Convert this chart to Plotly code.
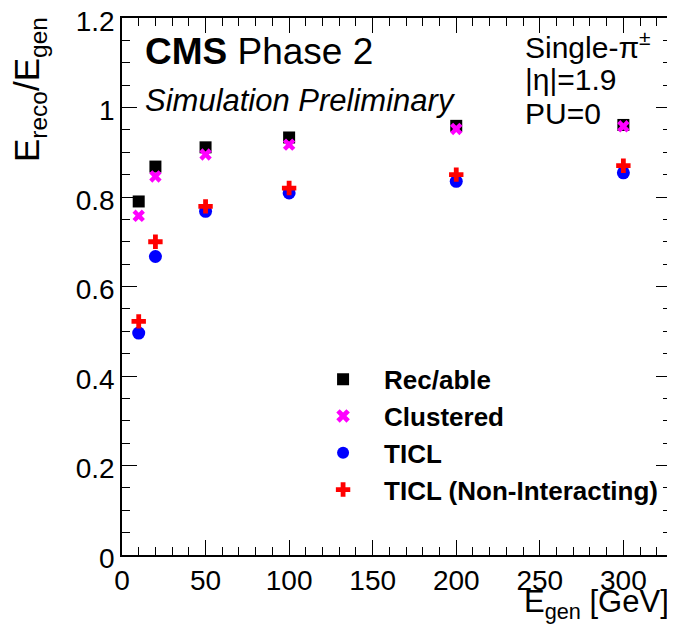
import plotly.graph_objects as go

energies = [10, 20, 50, 100, 200, 300]
recable = [0.790, 0.868, 0.911, 0.933, 0.959, 0.961]
clustered = [0.758, 0.846, 0.895, 0.917, 0.952, 0.958]
ticl = [0.496, 0.667, 0.768, 0.809, 0.835, 0.854]
ticl_nonint = [0.522, 0.700, 0.779, 0.820, 0.850, 0.870]

series_names = ["Rec/able", "Clustered", "TICL", "TICL (Non-Interacting)"]
series_values = [recable, clustered, ticl, ticl_nonint]
series_colors = ["#000000", "#ff00ff", "#0000ff", "#ff0000"]
series_symbols = ["square", "x", "circle", "cross"]
series_sizes = [12, 11, 13, 12]

x_ticks = [0, 50, 100, 150, 200, 250, 300]
y_ticks = [0, 0.2, 0.4, 0.6, 0.8, 1.0, 1.2]

FONT = "Liberation Sans, Arial, Helvetica, sans-serif"

fig = go.Figure()
for i, (name, vals, col, sym, sz) in enumerate(
        zip(series_names, series_values, series_colors, series_symbols, series_sizes)):
    fig.add_trace(go.Scatter(
        x=energies, y=vals, mode="markers", name=name,
        legendgroup=f"g{i}",
        marker=dict(symbol=sym, color=col, size=sz, line=dict(width=0)),
    ))

axis_common = dict(
    showgrid=False, zeroline=False, showline=True, linecolor="black", linewidth=1.5,
    mirror="ticks", ticks="inside", ticklen=15, tickwidth=1, tickcolor="black",
    tickfont=dict(family=FONT, size=28, color="black"),
    ticklabeloverflow="allow", automargin=False,
)

fig.update_xaxes(range=[0, 328.5], tickvals=x_ticks,
                 minor=dict(ticks="inside", ticklen=8, dtick=10, tick0=0, tickcolor="black"),
                 **axis_common)
fig.update_yaxes(range=[0, 1.2], tickvals=y_ticks, ticklabelshift=3,
                 minor=dict(ticks="inside", ticklen=8, dtick=0.05, tick0=0, tickcolor="black"),
                 **axis_common)

fig.update_layout(
    width=667, height=624,
    margin=dict(l=114, r=4, t=10, b=77, autoexpand=False),
    plot_bgcolor="white", paper_bgcolor="white",
    font=dict(family=FONT, color="black"),
    showlegend=True,
    legend=dict(x=0.328, y=0.371, xanchor="left", yanchor="top",
                bgcolor="rgba(0,0,0,0)", borderwidth=0,
                font=dict(family=FONT, size=26, color="black", weight="bold"),
                tracegroupgap=0, itemsizing="constant", itemwidth=72),
    annotations=[
        dict(text="<b>CMS</b> Phase 2", xref="paper", yref="paper", x=0.038, y=0.937,
             xanchor="left", yanchor="middle", showarrow=False,
             font=dict(family=FONT, size=37)),
        dict(text="<i>Simulation Preliminary</i>", xref="paper", yref="paper", x=0.038, y=0.847,
             xanchor="left", yanchor="middle", showarrow=False,
             font=dict(family=FONT, size=31)),
        dict(text="Single-π<sup>±</sup>", xref="paper", yref="paper", x=0.730, y=0.950,
             xanchor="left", yanchor="middle", showarrow=False,
             font=dict(family=FONT, size=30)),
        dict(text="|η|=1.9", xref="paper", yref="paper", x=0.730, y=0.886,
             xanchor="left", yanchor="middle", showarrow=False,
             font=dict(family=FONT, size=30)),
        dict(text="PU=0", xref="paper", yref="paper", x=0.730, y=0.823,
             xanchor="left", yanchor="middle", showarrow=False,
             font=dict(family=FONT, size=30)),
        dict(text="E<sub>reco</sub>/E<sub>gen</sub>", xref="paper", yref="paper",
             x=-0.168, y=1.006, xanchor="center", yanchor="top", textangle=-90,
             showarrow=False, font=dict(family=FONT, size=35)),
        dict(text="E<sub>gen</sub> [GeV]", xref="paper", yref="paper",
             x=1.0, y=-0.091, xanchor="right", yanchor="middle",
             showarrow=False, font=dict(family=FONT, size=31)),
    ],
)

fig.write_html("out.html")
